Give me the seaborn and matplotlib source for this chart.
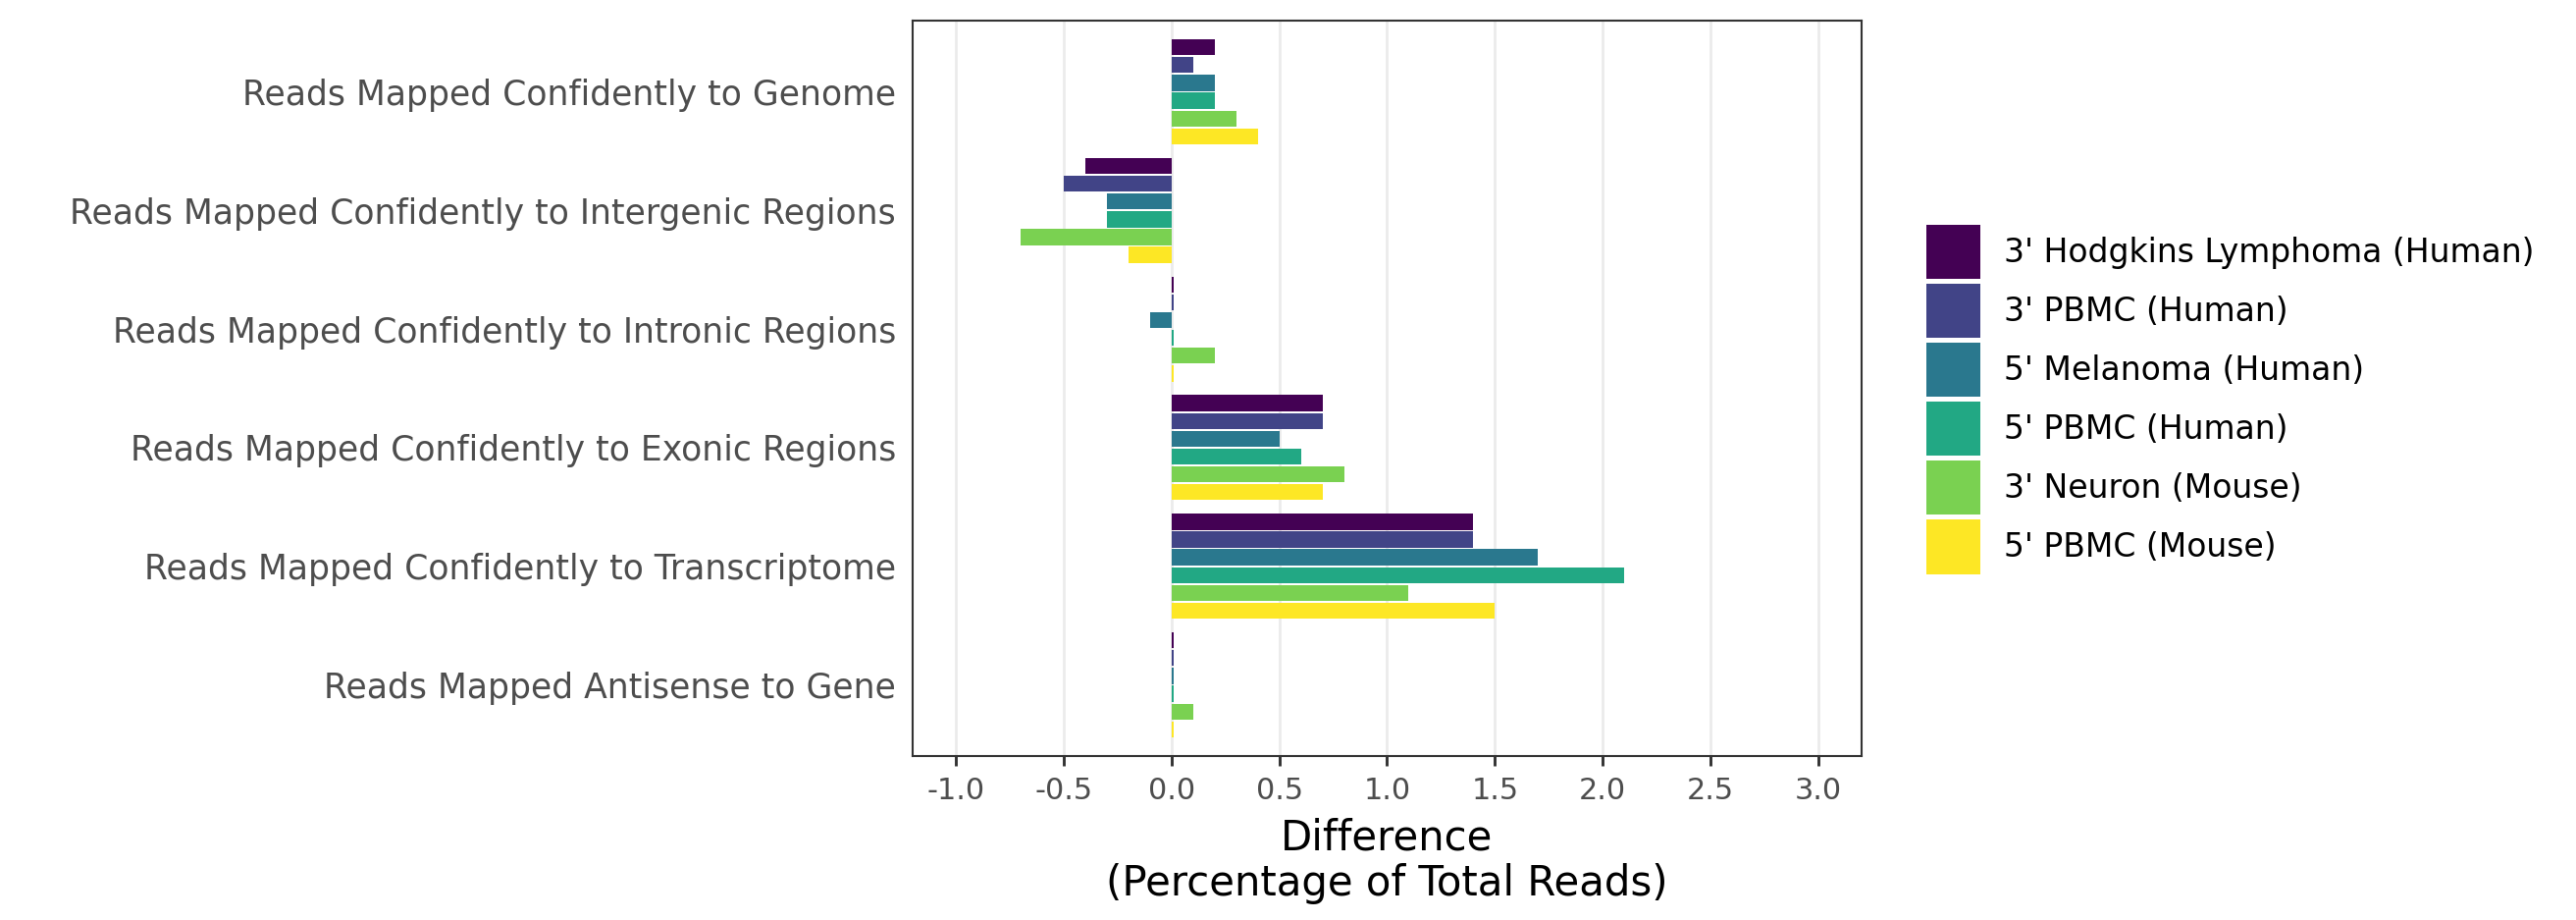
import numpy as np
import pandas as pd
import matplotlib
matplotlib.use("Agg")
import matplotlib.pyplot as plt
import seaborn as sns

metrics = [
    "Reads Mapped Confidently to Genome",
    "Reads Mapped Confidently to Intergenic Regions",
    "Reads Mapped Confidently to Intronic Regions",
    "Reads Mapped Confidently to Exonic Regions",
    "Reads Mapped Confidently to Transcriptome",
    "Reads Mapped Antisense to Gene",
]
datasets = [
    "3' Hodgkins Lymphoma (Human)",
    "3' PBMC (Human)",
    "5' Melanoma (Human)",
    "5' PBMC (Human)",
    "3' Neuron (Mouse)",
    "5' PBMC (Mouse)",
]
hodgkins_3_human = [0.2, -0.4, 0.01, 0.7, 1.4, 0.01]
pbmc_3_human = [0.1, -0.5, 0.01, 0.7, 1.4, 0.01]
melanoma_5_human = [0.2, -0.3, -0.1, 0.5, 1.7, 0.01]
pbmc_5_human = [0.2, -0.3, 0.01, 0.6, 2.1, 0.01]
neuron_3_mouse = [0.3, -0.7, 0.2, 0.8, 1.1, 0.1]
pbmc_5_mouse = [0.4, -0.2, 0.01, 0.7, 1.5, 0.01]
x_ticks = [-1.0, -0.5, 0.0, 0.5, 1.0, 1.5, 2.0, 2.5, 3.0]
x_tick_labels = ["-1.0", "-0.5", "0.0", "0.5", "1.0", "1.5", "2.0", "2.5", "3.0"]
colors = ["#440154", "#414487", "#2A788E", "#22A884", "#7AD151", "#FDE725"]

series = [hodgkins_3_human, pbmc_3_human, melanoma_5_human,
          pbmc_5_human, neuron_3_mouse, pbmc_5_mouse]
rows = []
for ds, vals in zip(datasets, series):
    for m, v in zip(metrics, vals):
        rows.append({"metric": m, "dataset": ds, "value": v})
df = pd.DataFrame(rows)

plt.rcParams["font.family"] = ["DejaVu Sans"]
W, H, DPI = 2625, 937, 300
fig = plt.figure(figsize=(W / DPI, H / DPI), dpi=DPI)
ax = fig.add_axes([930 / W, 1 - 770 / H, (1897 - 930) / W, (770 - 21) / H])

sns.barplot(data=df, y="metric", x="value", hue="dataset", orient="h",
            order=metrics, hue_order=datasets, palette=colors, saturation=1,
            width=0.9, gap=0.1, linewidth=0, errorbar=None, dodge=True, ax=ax)

handles, labels = ax.get_legend_handles_labels()
if ax.get_legend() is not None:
    ax.get_legend().remove()

ax.set_xlim(-1.2, 3.2)
ax.set_ylim(5.6, -0.6)
ax.set_xticks(x_ticks)
ax.set_xticklabels(x_tick_labels)
ax.set_axisbelow(True)
ax.grid(axis="x", color="#EBEBEB", linewidth=0.65)
ax.grid(axis="y", visible=False)
for s in ax.spines.values():
    s.set_visible(True)
    s.set_color("#333333")
    s.set_linewidth(0.5)
ax.tick_params(axis="x", length=2.4, width=0.7, color="#333333",
               labelsize=7.3, labelcolor="#4D4D4D", pad=2.6)
ax.tick_params(axis="y", length=0, labelsize=8.3, labelcolor="#4D4D4D", pad=4.1)
ax.set_ylabel("")
ax.set_xlabel("Difference\n(Percentage of Total Reads)", fontsize=10.05,
              color="black", labelpad=3, linespacing=1.13)

fig.legend(handles, labels, loc="upper left",
           bbox_to_anchor=(1963 / W, 1 - 229 / H), frameon=False,
           fontsize=7.93, handlelength=1.667, handleheight=2.19,
           labelspacing=0.15, handletextpad=0.73, borderpad=0,
           borderaxespad=0)

fig.savefig("out.png", dpi=DPI, facecolor="white")
